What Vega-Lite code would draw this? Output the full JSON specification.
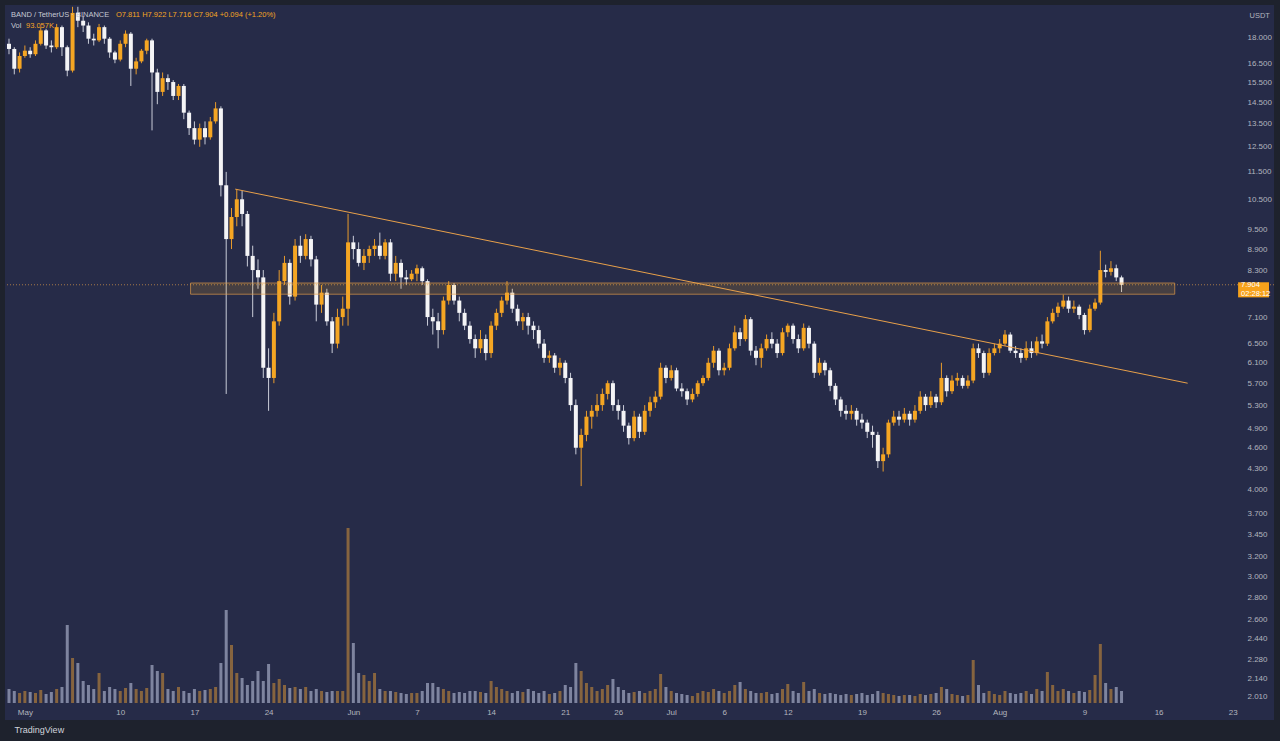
{
  "$schema": "https://vega.github.io/schema/vega-lite/v6.json",
  "width": 1269,
  "height": 715,
  "autosize": {"type": "none"},
  "padding": {"left": 5, "top": 5, "right": 6, "bottom": 21},
  "background": "#1e222d",
  "config": {
    "view": {"fill": "#262b48", "stroke": null},
    "font": "Liberation Sans",
    "text": {"font": "Liberation Sans"}
  },
  "title": {
    "text": "TradingView",
    "orient": "bottom",
    "anchor": "start",
    "color": "#d1d4dc",
    "fontSize": 9,
    "fontWeight": "normal",
    "offset": 6,
    "dx": 10
  },
  "data": {
    "values": [
      {"t": "2021-04-29T12:00", "o": 17.6, "h": 17.9, "l": 17.0, "c": 17.3, "v": 140},
      {"t": "2021-04-30T00:00", "o": 17.3, "h": 17.4, "l": 15.9, "c": 16.2, "v": 120},
      {"t": "2021-04-30T12:00", "o": 16.2, "h": 17.1, "l": 16.0, "c": 16.9, "v": 100},
      {"t": "2021-05-01T00:00", "o": 16.9, "h": 17.5, "l": 16.8, "c": 17.2, "v": 120},
      {"t": "2021-05-01T12:00", "o": 17.2, "h": 17.4, "l": 16.8, "c": 17.0, "v": 110},
      {"t": "2021-05-02T00:00", "o": 17.0, "h": 17.8, "l": 16.9, "c": 17.6, "v": 100},
      {"t": "2021-05-02T12:00", "o": 17.6, "h": 18.6, "l": 17.5, "c": 18.4, "v": 130},
      {"t": "2021-05-03T00:00", "o": 18.4, "h": 18.5, "l": 17.3, "c": 17.5, "v": 90},
      {"t": "2021-05-03T12:00", "o": 17.5, "h": 17.8, "l": 17.1, "c": 17.4, "v": 110},
      {"t": "2021-05-04T00:00", "o": 17.4, "h": 18.8, "l": 17.3, "c": 18.6, "v": 140},
      {"t": "2021-05-04T12:00", "o": 18.6, "h": 18.7, "l": 16.9, "c": 17.4, "v": 160},
      {"t": "2021-05-05T00:00", "o": 17.4, "h": 17.5, "l": 15.8, "c": 16.1, "v": 780},
      {"t": "2021-05-05T12:00", "o": 16.1, "h": 19.9, "l": 16.0, "c": 19.5, "v": 450},
      {"t": "2021-05-06T00:00", "o": 19.5, "h": 19.9, "l": 18.6, "c": 19.0, "v": 400},
      {"t": "2021-05-06T12:00", "o": 19.0, "h": 19.3, "l": 18.3, "c": 18.7, "v": 220},
      {"t": "2021-05-07T00:00", "o": 18.7, "h": 18.9, "l": 17.6, "c": 17.9, "v": 180},
      {"t": "2021-05-07T12:00", "o": 17.9, "h": 18.2, "l": 17.5, "c": 17.8, "v": 140},
      {"t": "2021-05-08T00:00", "o": 17.8, "h": 18.8, "l": 17.7, "c": 18.6, "v": 300},
      {"t": "2021-05-08T12:00", "o": 18.6, "h": 18.7, "l": 17.6, "c": 17.9, "v": 120},
      {"t": "2021-05-09T00:00", "o": 17.9, "h": 18.0, "l": 16.8, "c": 17.1, "v": 160},
      {"t": "2021-05-09T12:00", "o": 17.1, "h": 17.2, "l": 16.5, "c": 16.7, "v": 140},
      {"t": "2021-05-10T00:00", "o": 16.7, "h": 17.8, "l": 16.6, "c": 17.6, "v": 120},
      {"t": "2021-05-10T12:00", "o": 17.6, "h": 18.4, "l": 17.4, "c": 18.2, "v": 150},
      {"t": "2021-05-11T00:00", "o": 18.2, "h": 18.3, "l": 15.3, "c": 16.2, "v": 200},
      {"t": "2021-05-11T12:00", "o": 16.2, "h": 16.8, "l": 15.9, "c": 16.6, "v": 140},
      {"t": "2021-05-12T00:00", "o": 16.6, "h": 17.3, "l": 16.5, "c": 17.2, "v": 120},
      {"t": "2021-05-12T12:00", "o": 17.2, "h": 17.9, "l": 17.0, "c": 17.8, "v": 150},
      {"t": "2021-05-13T00:00", "o": 17.8, "h": 17.9, "l": 13.2, "c": 16.0, "v": 380},
      {"t": "2021-05-13T12:00", "o": 16.0, "h": 16.2, "l": 14.4, "c": 15.0, "v": 320},
      {"t": "2021-05-14T00:00", "o": 15.0, "h": 16.0, "l": 14.8, "c": 15.7, "v": 300},
      {"t": "2021-05-14T12:00", "o": 15.7, "h": 15.9, "l": 15.1, "c": 15.5, "v": 140},
      {"t": "2021-05-15T00:00", "o": 15.5, "h": 15.6, "l": 14.6, "c": 14.8, "v": 120},
      {"t": "2021-05-15T12:00", "o": 14.8, "h": 15.4, "l": 14.6, "c": 15.3, "v": 160},
      {"t": "2021-05-16T00:00", "o": 15.3, "h": 15.4, "l": 13.7, "c": 14.0, "v": 120},
      {"t": "2021-05-16T12:00", "o": 14.0, "h": 14.1, "l": 13.0, "c": 13.3, "v": 100},
      {"t": "2021-05-17T00:00", "o": 13.3, "h": 13.6, "l": 12.6, "c": 12.8, "v": 140},
      {"t": "2021-05-17T12:00", "o": 12.8, "h": 13.5, "l": 12.5, "c": 13.3, "v": 120},
      {"t": "2021-05-18T00:00", "o": 13.3, "h": 13.6, "l": 12.6, "c": 12.9, "v": 130},
      {"t": "2021-05-18T12:00", "o": 12.9, "h": 13.8, "l": 12.8, "c": 13.6, "v": 140},
      {"t": "2021-05-19T00:00", "o": 13.6, "h": 14.5, "l": 13.5, "c": 14.2, "v": 160},
      {"t": "2021-05-19T12:00", "o": 14.2, "h": 14.3, "l": 10.6, "c": 11.0, "v": 400},
      {"t": "2021-05-20T00:00", "o": 11.0, "h": 11.5, "l": 5.5, "c": 9.2, "v": 930},
      {"t": "2021-05-20T12:00", "o": 9.2, "h": 10.2, "l": 8.9, "c": 9.9, "v": 580},
      {"t": "2021-05-21T00:00", "o": 9.9, "h": 10.85, "l": 9.6, "c": 10.5, "v": 300},
      {"t": "2021-05-21T12:00", "o": 10.5, "h": 10.8, "l": 9.6, "c": 10.0, "v": 250},
      {"t": "2021-05-22T00:00", "o": 10.0, "h": 10.1, "l": 8.4, "c": 8.7, "v": 180},
      {"t": "2021-05-22T12:00", "o": 8.7, "h": 9.0, "l": 7.1, "c": 8.3, "v": 220},
      {"t": "2021-05-23T00:00", "o": 8.3, "h": 8.6, "l": 7.8, "c": 8.1, "v": 320},
      {"t": "2021-05-23T12:00", "o": 8.1, "h": 8.3, "l": 5.8, "c": 6.0, "v": 220},
      {"t": "2021-05-24T00:00", "o": 6.0, "h": 6.4, "l": 5.2, "c": 5.8, "v": 390},
      {"t": "2021-05-24T12:00", "o": 5.8, "h": 7.2, "l": 5.7, "c": 7.0, "v": 200},
      {"t": "2021-05-25T00:00", "o": 7.0, "h": 8.3, "l": 6.9, "c": 8.0, "v": 240},
      {"t": "2021-05-25T12:00", "o": 8.0, "h": 8.7, "l": 7.9, "c": 8.5, "v": 180},
      {"t": "2021-05-26T00:00", "o": 8.5, "h": 8.6, "l": 7.4, "c": 7.6, "v": 150},
      {"t": "2021-05-26T12:00", "o": 7.6, "h": 9.2, "l": 7.5, "c": 9.0, "v": 160},
      {"t": "2021-05-27T00:00", "o": 9.0, "h": 9.3, "l": 8.5, "c": 8.7, "v": 140},
      {"t": "2021-05-27T12:00", "o": 8.7, "h": 9.35, "l": 8.6, "c": 9.2, "v": 160},
      {"t": "2021-05-28T00:00", "o": 9.2, "h": 9.3, "l": 8.4, "c": 8.6, "v": 120},
      {"t": "2021-05-28T12:00", "o": 8.6, "h": 8.7, "l": 7.0, "c": 7.4, "v": 140},
      {"t": "2021-05-29T00:00", "o": 7.4, "h": 7.9, "l": 7.2, "c": 7.7, "v": 120},
      {"t": "2021-05-29T12:00", "o": 7.7, "h": 7.8, "l": 6.9, "c": 7.0, "v": 110},
      {"t": "2021-05-30T00:00", "o": 7.0, "h": 7.1, "l": 6.3, "c": 6.5, "v": 120},
      {"t": "2021-05-30T12:00", "o": 6.5, "h": 7.3, "l": 6.4, "c": 7.1, "v": 120},
      {"t": "2021-05-31T00:00", "o": 7.1, "h": 7.6, "l": 6.9, "c": 7.3, "v": 120},
      {"t": "2021-05-31T12:00", "o": 7.3, "h": 10.0, "l": 6.9, "c": 9.1, "v": 1750},
      {"t": "2021-06-01T00:00", "o": 9.1, "h": 9.3, "l": 8.6, "c": 8.9, "v": 600},
      {"t": "2021-06-01T12:00", "o": 8.9, "h": 9.1, "l": 8.4, "c": 8.5, "v": 300},
      {"t": "2021-06-02T00:00", "o": 8.5, "h": 8.9, "l": 8.3, "c": 8.7, "v": 280},
      {"t": "2021-06-02T12:00", "o": 8.7, "h": 9.0, "l": 8.5, "c": 8.9, "v": 220},
      {"t": "2021-06-03T00:00", "o": 8.9, "h": 9.2, "l": 8.7, "c": 9.0, "v": 300},
      {"t": "2021-06-03T12:00", "o": 9.0, "h": 9.4, "l": 8.6, "c": 8.7, "v": 140},
      {"t": "2021-06-04T00:00", "o": 8.7, "h": 9.2, "l": 8.6, "c": 9.1, "v": 120},
      {"t": "2021-06-04T12:00", "o": 9.1, "h": 9.2, "l": 8.0, "c": 8.2, "v": 120},
      {"t": "2021-06-05T00:00", "o": 8.2, "h": 8.7, "l": 8.0, "c": 8.5, "v": 110},
      {"t": "2021-06-05T12:00", "o": 8.5, "h": 8.6, "l": 7.8, "c": 8.1, "v": 100},
      {"t": "2021-06-06T00:00", "o": 8.1, "h": 8.3, "l": 7.9, "c": 8.05, "v": 90},
      {"t": "2021-06-06T12:00", "o": 8.05, "h": 8.3, "l": 8.0, "c": 8.2, "v": 100},
      {"t": "2021-06-07T00:00", "o": 8.2, "h": 8.45, "l": 8.0, "c": 8.35, "v": 100},
      {"t": "2021-06-07T12:00", "o": 8.35, "h": 8.4, "l": 7.9, "c": 8.0, "v": 120},
      {"t": "2021-06-08T00:00", "o": 8.0, "h": 8.05, "l": 6.9, "c": 7.1, "v": 200},
      {"t": "2021-06-08T12:00", "o": 7.1, "h": 7.3, "l": 6.7, "c": 7.0, "v": 200},
      {"t": "2021-06-09T00:00", "o": 7.0, "h": 7.2, "l": 6.4, "c": 6.8, "v": 160},
      {"t": "2021-06-09T12:00", "o": 6.8, "h": 7.6, "l": 6.7, "c": 7.5, "v": 140},
      {"t": "2021-06-10T00:00", "o": 7.5, "h": 8.0, "l": 7.4, "c": 7.9, "v": 120},
      {"t": "2021-06-10T12:00", "o": 7.9, "h": 7.95, "l": 7.4, "c": 7.5, "v": 100},
      {"t": "2021-06-11T00:00", "o": 7.5, "h": 7.6, "l": 7.0, "c": 7.2, "v": 110},
      {"t": "2021-06-11T12:00", "o": 7.2, "h": 7.3, "l": 6.8, "c": 6.9, "v": 100},
      {"t": "2021-06-12T00:00", "o": 6.9, "h": 7.0, "l": 6.5, "c": 6.6, "v": 120},
      {"t": "2021-06-12T12:00", "o": 6.6, "h": 6.7, "l": 6.2, "c": 6.4, "v": 120},
      {"t": "2021-06-13T00:00", "o": 6.4, "h": 6.8, "l": 6.3, "c": 6.6, "v": 110},
      {"t": "2021-06-13T12:00", "o": 6.6, "h": 6.7, "l": 6.15, "c": 6.3, "v": 100},
      {"t": "2021-06-14T00:00", "o": 6.3, "h": 7.0, "l": 6.2, "c": 6.9, "v": 220},
      {"t": "2021-06-14T12:00", "o": 6.9, "h": 7.3, "l": 6.8, "c": 7.2, "v": 160},
      {"t": "2021-06-15T00:00", "o": 7.2, "h": 7.6, "l": 7.1, "c": 7.5, "v": 140},
      {"t": "2021-06-15T12:00", "o": 7.5, "h": 8.0, "l": 7.4, "c": 7.7, "v": 120},
      {"t": "2021-06-16T00:00", "o": 7.7, "h": 7.8, "l": 7.2, "c": 7.3, "v": 100},
      {"t": "2021-06-16T12:00", "o": 7.3, "h": 7.4, "l": 6.9, "c": 7.0, "v": 120},
      {"t": "2021-06-17T00:00", "o": 7.0, "h": 7.2, "l": 6.8, "c": 7.1, "v": 110},
      {"t": "2021-06-17T12:00", "o": 7.1, "h": 7.2, "l": 6.7, "c": 6.9, "v": 140},
      {"t": "2021-06-18T00:00", "o": 6.9, "h": 7.0, "l": 6.6, "c": 6.8, "v": 120},
      {"t": "2021-06-18T12:00", "o": 6.8, "h": 6.9, "l": 6.4, "c": 6.5, "v": 100},
      {"t": "2021-06-19T00:00", "o": 6.5, "h": 6.6, "l": 6.1, "c": 6.2, "v": 120},
      {"t": "2021-06-19T12:00", "o": 6.2, "h": 6.35, "l": 6.1, "c": 6.25, "v": 90},
      {"t": "2021-06-20T00:00", "o": 6.25, "h": 6.3, "l": 5.9, "c": 6.0, "v": 100},
      {"t": "2021-06-20T12:00", "o": 6.0, "h": 6.2, "l": 5.85, "c": 6.1, "v": 120},
      {"t": "2021-06-21T00:00", "o": 6.1, "h": 6.15, "l": 5.7, "c": 5.8, "v": 180},
      {"t": "2021-06-21T12:00", "o": 5.8, "h": 5.9, "l": 5.2, "c": 5.3, "v": 160},
      {"t": "2021-06-22T00:00", "o": 5.3, "h": 5.4, "l": 4.5, "c": 4.6, "v": 400},
      {"t": "2021-06-22T12:00", "o": 4.6, "h": 4.9, "l": 4.05, "c": 4.8, "v": 320},
      {"t": "2021-06-23T00:00", "o": 4.8, "h": 5.2, "l": 4.7, "c": 5.1, "v": 200},
      {"t": "2021-06-23T12:00", "o": 5.1, "h": 5.3, "l": 4.9, "c": 5.2, "v": 160},
      {"t": "2021-06-24T00:00", "o": 5.2, "h": 5.5, "l": 5.1, "c": 5.3, "v": 120},
      {"t": "2021-06-24T12:00", "o": 5.3, "h": 5.6, "l": 5.2, "c": 5.5, "v": 140},
      {"t": "2021-06-25T00:00", "o": 5.5, "h": 5.75, "l": 5.4, "c": 5.7, "v": 180},
      {"t": "2021-06-25T12:00", "o": 5.7, "h": 5.75, "l": 5.2, "c": 5.3, "v": 240},
      {"t": "2021-06-26T00:00", "o": 5.3, "h": 5.4, "l": 5.05, "c": 5.2, "v": 160},
      {"t": "2021-06-26T12:00", "o": 5.2, "h": 5.3, "l": 4.85, "c": 4.95, "v": 130},
      {"t": "2021-06-27T00:00", "o": 4.95, "h": 5.0, "l": 4.65, "c": 4.75, "v": 100},
      {"t": "2021-06-27T12:00", "o": 4.75, "h": 5.2, "l": 4.7, "c": 5.1, "v": 110},
      {"t": "2021-06-28T00:00", "o": 5.1, "h": 5.15, "l": 4.75, "c": 4.85, "v": 120},
      {"t": "2021-06-28T12:00", "o": 4.85, "h": 5.3, "l": 4.8, "c": 5.2, "v": 100},
      {"t": "2021-06-29T00:00", "o": 5.2, "h": 5.45, "l": 5.1, "c": 5.35, "v": 120},
      {"t": "2021-06-29T12:00", "o": 5.35, "h": 5.55, "l": 5.25, "c": 5.45, "v": 140},
      {"t": "2021-06-30T00:00", "o": 5.45, "h": 6.1, "l": 5.4, "c": 6.0, "v": 290},
      {"t": "2021-06-30T12:00", "o": 6.0, "h": 6.05, "l": 5.7, "c": 5.8, "v": 160},
      {"t": "2021-07-01T00:00", "o": 5.8, "h": 6.05, "l": 5.75, "c": 5.95, "v": 120},
      {"t": "2021-07-01T12:00", "o": 5.95, "h": 6.0, "l": 5.55, "c": 5.6, "v": 100},
      {"t": "2021-07-02T00:00", "o": 5.6, "h": 5.7, "l": 5.45, "c": 5.55, "v": 90},
      {"t": "2021-07-02T12:00", "o": 5.55, "h": 5.6, "l": 5.3, "c": 5.4, "v": 80},
      {"t": "2021-07-03T00:00", "o": 5.4, "h": 5.6, "l": 5.35, "c": 5.5, "v": 70},
      {"t": "2021-07-03T12:00", "o": 5.5, "h": 5.75, "l": 5.45, "c": 5.7, "v": 100},
      {"t": "2021-07-04T00:00", "o": 5.7, "h": 5.85, "l": 5.65, "c": 5.8, "v": 120},
      {"t": "2021-07-04T12:00", "o": 5.8, "h": 6.2, "l": 5.75, "c": 6.1, "v": 110},
      {"t": "2021-07-05T00:00", "o": 6.1, "h": 6.45, "l": 6.0, "c": 6.35, "v": 140},
      {"t": "2021-07-05T12:00", "o": 6.35, "h": 6.4, "l": 5.85, "c": 5.95, "v": 120},
      {"t": "2021-07-06T00:00", "o": 5.95, "h": 6.1, "l": 5.85, "c": 6.0, "v": 100},
      {"t": "2021-07-06T12:00", "o": 6.0, "h": 6.5, "l": 5.95, "c": 6.4, "v": 120},
      {"t": "2021-07-07T00:00", "o": 6.4, "h": 6.9, "l": 6.35, "c": 6.75, "v": 180},
      {"t": "2021-07-07T12:00", "o": 6.75, "h": 6.85, "l": 6.45, "c": 6.6, "v": 210},
      {"t": "2021-07-08T00:00", "o": 6.6, "h": 7.15, "l": 6.55, "c": 7.05, "v": 140},
      {"t": "2021-07-08T12:00", "o": 7.05, "h": 7.1, "l": 6.25, "c": 6.35, "v": 120},
      {"t": "2021-07-09T00:00", "o": 6.35, "h": 6.45, "l": 6.05, "c": 6.2, "v": 100},
      {"t": "2021-07-09T12:00", "o": 6.2, "h": 6.5, "l": 6.0, "c": 6.4, "v": 100},
      {"t": "2021-07-10T00:00", "o": 6.4, "h": 6.7, "l": 6.35, "c": 6.6, "v": 110},
      {"t": "2021-07-10T12:00", "o": 6.6, "h": 6.75, "l": 6.4, "c": 6.5, "v": 90},
      {"t": "2021-07-11T00:00", "o": 6.5, "h": 6.6, "l": 6.2, "c": 6.3, "v": 100},
      {"t": "2021-07-11T12:00", "o": 6.3, "h": 6.85, "l": 6.25, "c": 6.75, "v": 140},
      {"t": "2021-07-12T00:00", "o": 6.75, "h": 6.95, "l": 6.65, "c": 6.9, "v": 190},
      {"t": "2021-07-12T12:00", "o": 6.9, "h": 6.95, "l": 6.5, "c": 6.6, "v": 120},
      {"t": "2021-07-13T00:00", "o": 6.6, "h": 6.7, "l": 6.3, "c": 6.4, "v": 100},
      {"t": "2021-07-13T12:00", "o": 6.4, "h": 6.95, "l": 6.35, "c": 6.85, "v": 210},
      {"t": "2021-07-14T00:00", "o": 6.85, "h": 6.9, "l": 6.4, "c": 6.5, "v": 120},
      {"t": "2021-07-14T12:00", "o": 6.5, "h": 6.55, "l": 5.8, "c": 5.9, "v": 140},
      {"t": "2021-07-15T00:00", "o": 5.9, "h": 6.2, "l": 5.85, "c": 6.1, "v": 100},
      {"t": "2021-07-15T12:00", "o": 6.1, "h": 6.15, "l": 5.85, "c": 5.95, "v": 90},
      {"t": "2021-07-16T00:00", "o": 5.95, "h": 6.0, "l": 5.55, "c": 5.65, "v": 100},
      {"t": "2021-07-16T12:00", "o": 5.65, "h": 5.7, "l": 5.3, "c": 5.4, "v": 90},
      {"t": "2021-07-17T00:00", "o": 5.4, "h": 5.45, "l": 5.1, "c": 5.2, "v": 80},
      {"t": "2021-07-17T12:00", "o": 5.2, "h": 5.3, "l": 5.05, "c": 5.15, "v": 90},
      {"t": "2021-07-18T00:00", "o": 5.15, "h": 5.3, "l": 5.05, "c": 5.2, "v": 80},
      {"t": "2021-07-18T12:00", "o": 5.2, "h": 5.25, "l": 4.95, "c": 5.05, "v": 90},
      {"t": "2021-07-19T00:00", "o": 5.05, "h": 5.15, "l": 4.9, "c": 5.0, "v": 100},
      {"t": "2021-07-19T12:00", "o": 5.0, "h": 5.05, "l": 4.75, "c": 4.85, "v": 80},
      {"t": "2021-07-20T00:00", "o": 4.85, "h": 4.95, "l": 4.6, "c": 4.8, "v": 90},
      {"t": "2021-07-20T12:00", "o": 4.8, "h": 4.85, "l": 4.3, "c": 4.4, "v": 120},
      {"t": "2021-07-21T00:00", "o": 4.4, "h": 4.6, "l": 4.25, "c": 4.5, "v": 100},
      {"t": "2021-07-21T12:00", "o": 4.5, "h": 5.05, "l": 4.45, "c": 5.0, "v": 90},
      {"t": "2021-07-22T00:00", "o": 5.0, "h": 5.2, "l": 4.95, "c": 5.1, "v": 80},
      {"t": "2021-07-22T12:00", "o": 5.1, "h": 5.2, "l": 4.95, "c": 5.05, "v": 70},
      {"t": "2021-07-23T00:00", "o": 5.05, "h": 5.25, "l": 5.0, "c": 5.15, "v": 80},
      {"t": "2021-07-23T12:00", "o": 5.15, "h": 5.2, "l": 4.95, "c": 5.05, "v": 80},
      {"t": "2021-07-24T00:00", "o": 5.05, "h": 5.3, "l": 5.0, "c": 5.2, "v": 70},
      {"t": "2021-07-24T12:00", "o": 5.2, "h": 5.55, "l": 5.15, "c": 5.45, "v": 90},
      {"t": "2021-07-25T00:00", "o": 5.45, "h": 5.5, "l": 5.2, "c": 5.3, "v": 80},
      {"t": "2021-07-25T12:00", "o": 5.3, "h": 5.55, "l": 5.25, "c": 5.45, "v": 90},
      {"t": "2021-07-26T00:00", "o": 5.45, "h": 5.5, "l": 5.25, "c": 5.35, "v": 100},
      {"t": "2021-07-26T12:00", "o": 5.35, "h": 6.1, "l": 5.3, "c": 5.8, "v": 160},
      {"t": "2021-07-27T00:00", "o": 5.8, "h": 5.85, "l": 5.45, "c": 5.55, "v": 140},
      {"t": "2021-07-27T12:00", "o": 5.55, "h": 5.85, "l": 5.5, "c": 5.75, "v": 90},
      {"t": "2021-07-28T00:00", "o": 5.75, "h": 5.9, "l": 5.65, "c": 5.8, "v": 80},
      {"t": "2021-07-28T12:00", "o": 5.8, "h": 5.85, "l": 5.6, "c": 5.65, "v": 70},
      {"t": "2021-07-29T00:00", "o": 5.65, "h": 5.85, "l": 5.6, "c": 5.75, "v": 80},
      {"t": "2021-07-29T12:00", "o": 5.75, "h": 6.5, "l": 5.7, "c": 6.4, "v": 430},
      {"t": "2021-07-30T00:00", "o": 6.4, "h": 6.5, "l": 6.2, "c": 6.3, "v": 180},
      {"t": "2021-07-30T12:00", "o": 6.3, "h": 6.35, "l": 5.8, "c": 5.9, "v": 100},
      {"t": "2021-07-31T00:00", "o": 5.9, "h": 6.4, "l": 5.85, "c": 6.3, "v": 120},
      {"t": "2021-07-31T12:00", "o": 6.3, "h": 6.5, "l": 6.25, "c": 6.4, "v": 90},
      {"t": "2021-08-01T00:00", "o": 6.4, "h": 6.6, "l": 6.3, "c": 6.5, "v": 80},
      {"t": "2021-08-01T12:00", "o": 6.5, "h": 6.8, "l": 6.45, "c": 6.7, "v": 120},
      {"t": "2021-08-02T00:00", "o": 6.7, "h": 6.75, "l": 6.3, "c": 6.35, "v": 100},
      {"t": "2021-08-02T12:00", "o": 6.35, "h": 6.45, "l": 6.2, "c": 6.3, "v": 90},
      {"t": "2021-08-03T00:00", "o": 6.3, "h": 6.4, "l": 6.1, "c": 6.2, "v": 100},
      {"t": "2021-08-03T12:00", "o": 6.2, "h": 6.55, "l": 6.15, "c": 6.4, "v": 120},
      {"t": "2021-08-04T00:00", "o": 6.4, "h": 6.55, "l": 6.2, "c": 6.3, "v": 90},
      {"t": "2021-08-04T12:00", "o": 6.3, "h": 6.65, "l": 6.25, "c": 6.55, "v": 140},
      {"t": "2021-08-05T00:00", "o": 6.55, "h": 6.7, "l": 6.4, "c": 6.5, "v": 120},
      {"t": "2021-08-05T12:00", "o": 6.5, "h": 7.1, "l": 6.45, "c": 7.0, "v": 310},
      {"t": "2021-08-06T00:00", "o": 7.0, "h": 7.3, "l": 6.95, "c": 7.2, "v": 180},
      {"t": "2021-08-06T12:00", "o": 7.2, "h": 7.45, "l": 7.1, "c": 7.35, "v": 120},
      {"t": "2021-08-07T00:00", "o": 7.35, "h": 7.65, "l": 7.3, "c": 7.5, "v": 140},
      {"t": "2021-08-07T12:00", "o": 7.5, "h": 7.6, "l": 7.2, "c": 7.3, "v": 120},
      {"t": "2021-08-08T00:00", "o": 7.3, "h": 7.5, "l": 7.2, "c": 7.35, "v": 100},
      {"t": "2021-08-08T12:00", "o": 7.35, "h": 7.4, "l": 7.05, "c": 7.15, "v": 120},
      {"t": "2021-08-09T00:00", "o": 7.15, "h": 7.2, "l": 6.7, "c": 6.8, "v": 110},
      {"t": "2021-08-09T12:00", "o": 6.8, "h": 7.4, "l": 6.75, "c": 7.3, "v": 130},
      {"t": "2021-08-10T00:00", "o": 7.3, "h": 7.55, "l": 7.25, "c": 7.45, "v": 280},
      {"t": "2021-08-10T12:00", "o": 7.45, "h": 8.85, "l": 7.4, "c": 8.3, "v": 590},
      {"t": "2021-08-11T00:00", "o": 8.3, "h": 8.45, "l": 8.1, "c": 8.25, "v": 200},
      {"t": "2021-08-11T12:00", "o": 8.25, "h": 8.55, "l": 8.15, "c": 8.35, "v": 140},
      {"t": "2021-08-12T00:00", "o": 8.35, "h": 8.45, "l": 8.0, "c": 8.1, "v": 160},
      {"t": "2021-08-12T12:00", "o": 8.1, "h": 8.15, "l": 7.716, "c": 7.904, "v": 120}
    ]
  },
  "resolve": {"scale": {"y": "independent"}},
  "layer": [
    {
      "mark": {"type": "bar", "width": 3, "clip": true},
      "encoding": {
        "x": {
          "field": "t",
          "type": "temporal",
          "scale": {"domain": [
            {"year": 2021, "month": 4, "date": 29, "hours": 14, "minutes": 18},
            {"year": 2021, "month": 8, "date": 26, "hours": 10, "minutes": 0}
          ]},
          "axis": {
            "values": [
              {"year": 2021, "month": 5, "date": 1},
              {"year": 2021, "month": 5, "date": 10},
              {"year": 2021, "month": 5, "date": 17},
              {"year": 2021, "month": 5, "date": 24},
              {"year": 2021, "month": 6, "date": 1},
              {"year": 2021, "month": 6, "date": 7},
              {"year": 2021, "month": 6, "date": 14},
              {"year": 2021, "month": 6, "date": 21},
              {"year": 2021, "month": 6, "date": 26},
              {"year": 2021, "month": 7, "date": 1},
              {"year": 2021, "month": 7, "date": 6},
              {"year": 2021, "month": 7, "date": 12},
              {"year": 2021, "month": 7, "date": 19},
              {"year": 2021, "month": 7, "date": 26},
              {"year": 2021, "month": 8, "date": 1},
              {"year": 2021, "month": 8, "date": 9},
              {"year": 2021, "month": 8, "date": 16},
              {"year": 2021, "month": 8, "date": 23}
            ],
            "labelExpr": "date(datum.value) == 1 ? timeFormat(datum.value, '%b') : timeFormat(datum.value, '%-d')",
            "offset": -14,
            "ticks": false,
            "domain": false,
            "grid": false,
            "labelPadding": 2,
            "labelBaseline": "top",
            "labelColor": "#b2b5be",
            "labelFontSize": 8,
            "labelOverlap": false,
            "labelFlush": false,
            "title": null
          }
        },
        "y": {"field": "v", "type": "quantitative", "scale": {"domain": [-170, 6980]}, "axis": null},
        "color": {
          "condition": {"test": "datum.c >= datum.o", "value": "#86643f"},
          "value": "#7e849f"
        }
      }
    },
    {
      "layer": [
        {
          "mark": {"type": "rule", "strokeWidth": 1, "clip": true},
          "encoding": {
            "x": {"field": "t", "type": "temporal"},
            "y": {
              "field": "l",
              "type": "quantitative",
              "scale": {"type": "log", "domain": [1.862, 20.02]},
              "axis": {
                "orient": "right",
                "values": [18, 16.5, 15.5, 14.5, 13.5, 12.5, 11.5, 10.5, 9.5, 8.9, 8.3, 7.1, 6.5, 6.1, 5.7, 5.3, 4.9, 4.6, 4.3, 4.0, 3.7, 3.45, 3.2, 3.0, 2.8, 2.6, 2.44, 2.28, 2.14, 2.01],
                "format": ".3f",
                "offset": -30,
                "labelAlign": "left",
                "labelPadding": 3,
                "ticks": false,
                "domain": false,
                "grid": false,
                "labelColor": "#b2b5be",
                "labelFontSize": 8,
                "labelOverlap": false,
                "labelFlush": false,
                "title": "USDT",
                "titleAngle": 0,
                "titleAlign": "left",
                "titleBaseline": "middle",
                "titleX": 5,
                "titleY": 10,
                "titleColor": "#b2b5be",
                "titleFontSize": 7.5,
                "titleFontWeight": "normal"
              }
            },
            "y2": {"field": "h"},
            "color": {
              "condition": {"test": "datum.c >= datum.o", "value": "#e89b2c"},
              "value": "#c9ccd8"
            }
          }
        },
        {
          "mark": {"type": "bar", "width": 4, "clip": true},
          "encoding": {
            "x": {"field": "t", "type": "temporal"},
            "y": {"field": "o", "type": "quantitative", "scale": {"type": "log", "domain": [1.862, 20.02]}},
            "y2": {"field": "c"},
            "color": {
              "condition": {"test": "datum.c >= datum.o", "value": "#f5a623"},
              "value": "#f4f4f6"
            }
          }
        },
        {
          "data": {"values": [{}]},
          "mark": {"type": "rule", "color": "#f0a34a", "strokeWidth": 0.8, "strokeDash": [1, 2], "opacity": 0.8},
          "encoding": {
            "y": {"datum": 7.904, "type": "quantitative", "scale": {"type": "log", "domain": [1.862, 20.02]}}
          }
        },
        {
          "data": {"values": [{}]},
          "mark": {"type": "rect", "fill": "#f5a623", "fillOpacity": 0.16, "stroke": "#e8a04a", "strokeOpacity": 0.65, "strokeWidth": 1},
          "encoding": {
            "x": {"datum": {"year": 2021, "month": 5, "date": 16, "hours": 15, "minutes": 20}, "type": "temporal"},
            "x2": {"datum": {"year": 2021, "month": 8, "date": 17, "hours": 12, "minutes": 30}},
            "y": {"datum": 7.95, "type": "quantitative", "scale": {"type": "log", "domain": [1.862, 20.02]}},
            "y2": {"datum": 7.66}
          }
        },
        {
          "data": {"values": [{}]},
          "mark": {"type": "rule", "color": "#e8a04a", "strokeWidth": 1},
          "encoding": {
            "x": {"datum": {"year": 2021, "month": 5, "date": 20, "hours": 20, "minutes": 24}, "type": "temporal"},
            "x2": {"datum": {"year": 2021, "month": 8, "date": 18, "hours": 17, "minutes": 45}},
            "y": {"datum": 10.86, "type": "quantitative", "scale": {"type": "log", "domain": [1.862, 20.02]}},
            "y2": {"datum": 5.7}
          }
        },
        {
          "data": {"values": [{}]},
          "mark": {"type": "rect", "fill": "#f7a21b"},
          "encoding": {
            "x": {"datum": {"year": 2021, "month": 8, "date": 23, "hours": 12, "minutes": 0}, "type": "temporal"},
            "x2": {"datum": {"year": 2021, "month": 8, "date": 26, "hours": 10, "minutes": 0}},
            "y": {"datum": 7.97, "type": "quantitative", "scale": {"type": "log", "domain": [1.862, 20.02]}},
            "y2": {"datum": 7.58}
          }
        },
        {
          "data": {"values": [{"label": "7.904", "off": 0}, {"label": "02:28:12", "off": 9}]},
          "mark": {"type": "text", "align": "left", "baseline": "middle", "dx": 3, "fontSize": 7.5, "color": "#ffffff"},
          "encoding": {
            "x": {"datum": {"year": 2021, "month": 8, "date": 23, "hours": 12, "minutes": 0}, "type": "temporal"},
            "y": {"datum": 7.904, "type": "quantitative", "scale": {"type": "log", "domain": [1.862, 20.02]}},
            "yOffset": {"field": "off", "type": "quantitative", "scale": null},
            "text": {"field": "label"}
          }
        },
        {
          "data": {"values": [
            {"label": "BAND / TetherUS · BINANCE", "dx": 1, "dy": 10, "col": "#c5c8d2"},
            {"label": "O7.811 H7.922 L7.716 C7.904 +0.094 (+1.20%)", "dx": 106, "dy": 10, "col": "#f5a623"},
            {"label": "Vol", "dx": 1, "dy": 21, "col": "#c5c8d2"},
            {"label": "93.057K", "dx": 16, "dy": 21, "col": "#f5a623"}
          ]},
          "mark": {"type": "text", "align": "left", "baseline": "middle", "fontSize": 7.5},
          "encoding": {
            "x": {"datum": {"year": 2021, "month": 4, "date": 29, "hours": 14, "minutes": 18}, "type": "temporal"},
            "xOffset": {"field": "dx", "type": "quantitative", "scale": null},
            "y": {"datum": 20.02, "type": "quantitative", "scale": {"type": "log", "domain": [1.862, 20.02]}},
            "yOffset": {"field": "dy", "type": "quantitative", "scale": null},
            "text": {"field": "label"},
            "color": {"field": "col", "type": "nominal", "scale": null}
          }
        }
      ]
    }
  ]
}
